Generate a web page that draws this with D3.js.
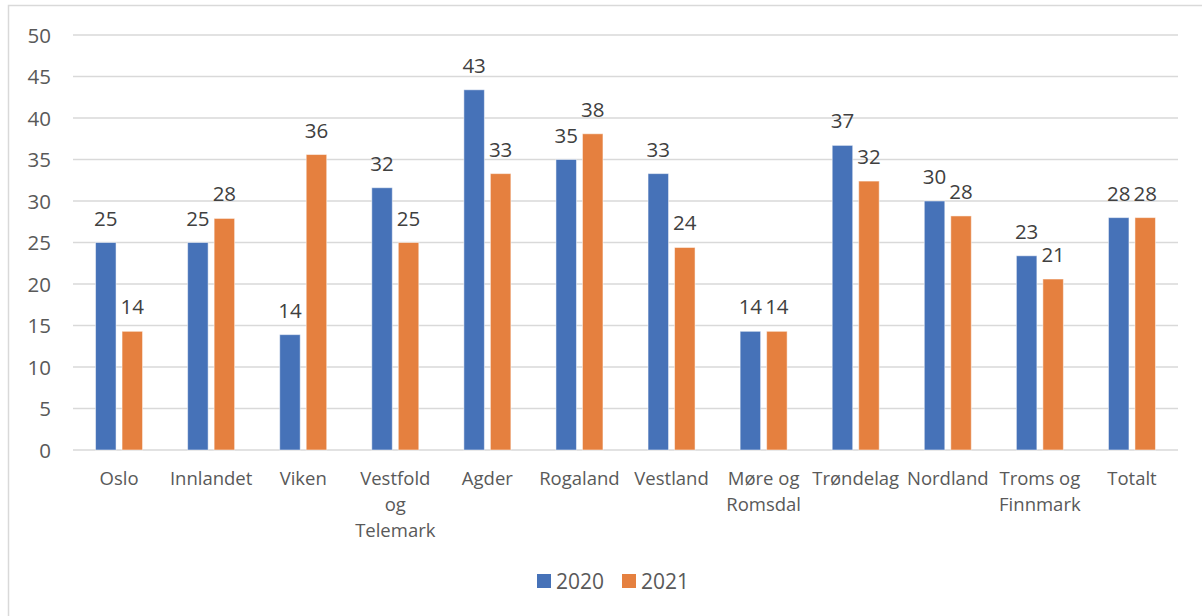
<!DOCTYPE html>
<html><head><meta charset="utf-8">
<script src="https://cdn.jsdelivr.net/npm/d3@7"></script>
<style>body{margin:0;background:#fff}svg{display:block}</style>
</head><body>
<script>
const categories = ["Oslo","Innlandet","Viken","Vestfold og Telemark","Agder","Rogaland","Vestland","Møre og Romsdal","Trøndelag","Nordland","Troms og Finnmark","Totalt"];
const categoryLines = [["Oslo"],["Innlandet"],["Viken"],["Vestfold","og","Telemark"],["Agder"],["Rogaland"],["Vestland"],["Møre og","Romsdal"],["Trøndelag"],["Nordland"],["Troms og","Finnmark"],["Totalt"]];
const series = ["2020","2021"];
const values2020 = [25.0,25.0,13.9,31.6,43.4,35.0,33.3,14.3,36.7,30.0,23.4,28.0];
const values2021 = [14.3,27.9,35.6,25.0,33.3,38.1,24.4,14.3,32.4,28.2,20.6,28.0];
const yTicks = [0,5,10,15,20,25,30,35,40,45,50];
const colors = ["#4672B8","#E5803F"];

const W=1202,H=616;
const svg=d3.select("body").append("svg").attr("width",W).attr("height",H);
svg.append("rect").attr("x",8.5).attr("y",5.5).attr("width",1200).attr("height",620).attr("fill","#fff").attr("stroke","#d9d9d9").attr("stroke-width",1.5);

const mL=73,mR=1178,mT=35,mB=450;
const x=d3.scaleBand().domain(categories).range([mL,mR]).paddingInner(0).paddingOuter(0);
const y=d3.scaleLinear().domain([0,50]).range([mB,mT]);
const barW=20.5, gap=6;
const font="'Open Sans', sans-serif";

// gridlines
svg.append("g").selectAll("line").data(yTicks).join("line")
  .attr("x1",mL).attr("x2",mR).attr("y1",d=>y(d)).attr("y2",d=>y(d))
  .attr("stroke","#d9d9d9").attr("stroke-width",1.5);

// y axis labels
const yAxis=d3.axisLeft(y).tickValues(yTicks).tickSize(0).tickPadding(0);
const gy=svg.append("g").attr("transform",`translate(51,0)`).call(yAxis);
gy.select(".domain").remove();
gy.selectAll("text").attr("font-family",font).attr("font-size",20.5).attr("fill","#595959").attr("dy","0.35em");

const data=[values2020,values2021];
data.forEach((vals,si)=>{
  const xoff = si===0 ? -gap/2-barW : gap/2;
  const g=svg.append("g");
  g.selectAll("rect").data(vals).join("rect")
    .attr("x",(d,i)=>x(categories[i])+x.bandwidth()/2+xoff)
    .attr("y",d=>y(d)).attr("width",barW).attr("height",d=>y(0)-y(d))
    .attr("fill",colors[si]).attr("stroke","rgba(255,255,255,0.5)").attr("stroke-width",1);
  g.selectAll("text").data(vals).join("text")
    .attr("x",(d,i)=>x(categories[i])+x.bandwidth()/2+xoff+barW/2)
    .attr("y",d=>y(d)-17)
    .attr("text-anchor","middle").attr("font-family",font).attr("font-size",20.5).attr("fill","#404040")
    .text(d=>d3.format(".0f")(d));
});

// x labels
const gx=svg.append("g");
categories.forEach((c,i)=>{
  const t=gx.append("text").attr("text-anchor","middle").attr("font-family",font).attr("font-size",18.5).attr("fill","#595959");
  categoryLines[i].forEach((ln,j)=>{
    t.append("tspan").attr("x",x(c)+x.bandwidth()/2).attr("y",485+j*26).text(ln);
  });
});

// legend
const leg=svg.append("g");
const legX=[537,622];
series.forEach((s,i)=>{
  leg.append("rect").attr("x",legX[i]).attr("y",574).attr("width",14).attr("height",14).attr("fill",colors[i]);
  leg.append("text").attr("x",legX[i]+19).attr("y",588.5).attr("font-family",font).attr("font-size",21).attr("fill","#595959").text(s);
});
</script>
</body></html>
